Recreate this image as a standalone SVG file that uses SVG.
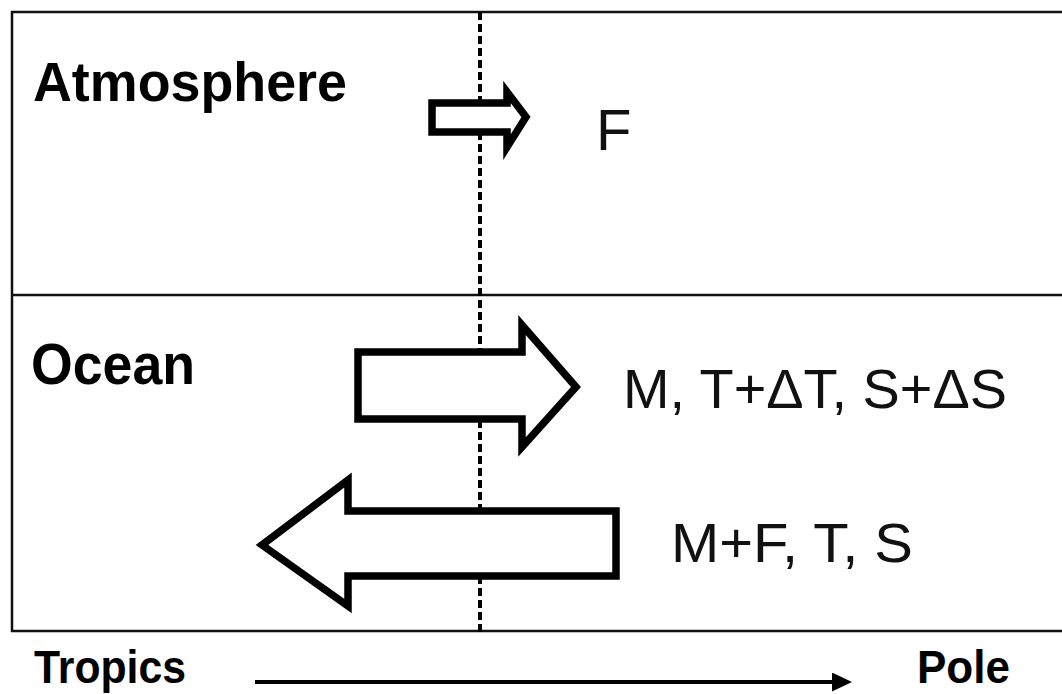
<svg xmlns="http://www.w3.org/2000/svg" width="1062" height="694" viewBox="0 0 1062 694">
<style>
.b{font-family:"Liberation Sans",Arial,sans-serif;font-weight:bold;fill:#000}
.r{font-family:"Liberation Sans",Arial,sans-serif;fill:#111}
.frame{stroke:#111;stroke-width:2.5;fill:none}
.arr{fill:#fff;stroke:#000;stroke-width:7.5;stroke-linejoin:miter}
</style>
<defs>
<marker id="ah" viewBox="0 0 20 19" refX="2" refY="9.5" markerWidth="20" markerHeight="19" markerUnits="userSpaceOnUse" orient="auto">
<path d="M0,0 L20,9.5 L0,19 z" fill="#000"/>
</marker>
</defs>
<rect width="1062" height="694" fill="#fff"/>
<g id="frame">
<polyline class="frame" points="1062,12 12,12 12,631 1062,631"/>
<line class="frame" x1="12" y1="295" x2="1062" y2="295"/>
</g>
<g id="connectors">
<line x1="480" y1="12" x2="480" y2="636" stroke="#000" stroke-width="4" stroke-dasharray="8,4"/>
<line x1="255" y1="682" x2="834" y2="682" stroke="#000" stroke-width="4" marker-end="url(#ah)"/>
</g>
<g id="arrow-F">
<polygon class="arr" points="432,103 507,103 507,92 526,117 507,147 507,132 432,132"/>
</g>
<g id="arrow-M">
<polygon class="arr" points="358,352 522,352 522,325 576,387 522,447 522,419 358,419"/>
</g>
<g id="arrow-MF">
<polygon class="arr" points="616,511 348,511 348,480 262,545 348,606 348,576 616,576"/>
</g>
<g id="labels">
<text class="b" x="33" y="101" font-size="56" textLength="314" lengthAdjust="spacingAndGlyphs">Atmosphere</text>
<text class="b" x="31" y="384" font-size="57" textLength="164" lengthAdjust="spacingAndGlyphs">Ocean</text>
<text class="b" x="34" y="683" font-size="46" textLength="152" lengthAdjust="spacingAndGlyphs">Tropics</text>
<text class="b" x="917" y="683" font-size="46" textLength="93" lengthAdjust="spacingAndGlyphs">Pole</text>
<text class="r" x="596" y="150" font-size="58">F</text>
<text class="r" x="623" y="408" font-size="56" textLength="384" lengthAdjust="spacingAndGlyphs">M, T+ΔT, S+ΔS</text>
<text class="r" x="671" y="562" font-size="56" textLength="242" lengthAdjust="spacingAndGlyphs">M+F, T, S</text>
</g>
</svg>
